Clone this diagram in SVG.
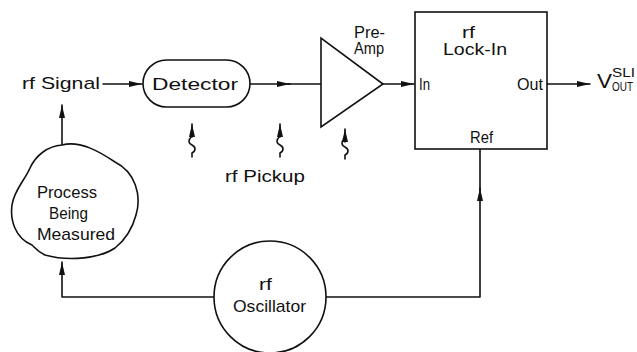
<svg xmlns="http://www.w3.org/2000/svg" width="637" height="352" viewBox="0 0 637 352">
<style>
.s{fill:none;stroke:#111;stroke-width:1.6;stroke-linejoin:round;stroke-linecap:round}
.n{fill:#fff;stroke:#111;stroke-width:1.6}
text{font-family:"Liberation Sans","DejaVu Sans",sans-serif;font-size:17px;fill:#111}
.m{font-size:16px}
.sm{font-size:12px}
.v{font-size:20px}
</style>
<defs>
<marker id="ah" markerUnits="userSpaceOnUse" markerWidth="14" markerHeight="8" refX="13" refY="4" orient="auto">
<path d="M0,1 L13,4 L0,7 Z" fill="#111"/>
</marker>
</defs>
<rect width="637" height="352" fill="#fff"/>
<g id="connectors">
<line class="s" x1="103" y1="84" x2="142" y2="84" marker-end="url(#ah)"/>
<line class="s" x1="250" y1="84" x2="290" y2="84" marker-end="url(#ah)"/>
<line class="s" x1="288" y1="84" x2="321" y2="84"/>
<line class="s" x1="383" y1="84" x2="414" y2="84" marker-end="url(#ah)"/>
<line class="s" x1="547" y1="84" x2="590" y2="84" marker-end="url(#ah)"/>
<line class="s" x1="62" y1="145" x2="62" y2="105" marker-end="url(#ah)"/>
<path class="s" d="M214,297 L62,297 L62,262" marker-end="url(#ah)"/>
<path class="s" d="M326,297 L480,297 L480,188" marker-end="url(#ah)"/>
<line class="s" x1="480" y1="190" x2="480" y2="149"/>
<g id="pickups">
<line class="s" x1="192" y1="137" x2="192" y2="124" marker-end="url(#ah)"/>
<path class="s" d="M192,136 C188,140 188,143 192,145 C196,147 196,151 192,153 L192,157"/>
<line class="s" x1="280" y1="137" x2="280" y2="124" marker-end="url(#ah)"/>
<path class="s" d="M280,136 C276,140 276,143 280,145 C284,147 284,151 280,153 L280,157"/>
<line class="s" x1="345" y1="142" x2="345" y2="129" marker-end="url(#ah)"/>
<path class="s" d="M345,138 C341,142 341,145 345,147 C349,149 349,153 345,155 L345,159"/>
</g>
</g>
<g id="rfsignal"><text x="22" y="89" textLength="78" lengthAdjust="spacingAndGlyphs">rf Signal</text></g>
<g id="detector">
<rect class="n" x="143" y="60" width="107" height="47" rx="23.5"/>
<text x="152" y="90" textLength="86" lengthAdjust="spacingAndGlyphs">Detector</text>
</g>
<g id="rfpickup"><text x="225" y="182" textLength="80" lengthAdjust="spacingAndGlyphs">rf Pickup</text></g>
<g id="preamp">
<polygon class="n" points="321,38 321,127 383,84"/>
<text class="m" x="354" y="38" textLength="31" lengthAdjust="spacingAndGlyphs">Pre-</text>
<text class="m" x="354" y="54" textLength="30" lengthAdjust="spacingAndGlyphs">Amp</text>
</g>
<g id="lockin">
<rect class="n" x="415" y="12" width="132" height="137"/>
<text class="m" x="462" y="38" textLength="13" lengthAdjust="spacingAndGlyphs">rf</text>
<text class="m" x="443" y="55" textLength="64" lengthAdjust="spacingAndGlyphs">Lock-In</text>
<text x="419" y="90" textLength="11" lengthAdjust="spacingAndGlyphs">In</text>
<text x="517" y="90" textLength="26" lengthAdjust="spacingAndGlyphs">Out</text>
<text x="470" y="143" textLength="23" lengthAdjust="spacingAndGlyphs">Ref</text>
</g>
<g id="vout">
<text class="v" x="597" y="88" textLength="15" lengthAdjust="spacingAndGlyphs">V</text>
<text class="sm" x="612" y="77" textLength="23" lengthAdjust="spacingAndGlyphs">SLI</text>
<text class="sm" x="612" y="91" textLength="21" lengthAdjust="spacingAndGlyphs">OUT</text>
</g>
<g id="process">
<path class="n" d="M62,145 C80,140 100,152 115,162 C135,172 142,195 136,215 C132,230 125,240 115,248 C100,258 70,262 45,255 C38,252 35,248 32,245 C15,238 10,220 12,205 C14,190 25,180 30,168 C36,155 48,146 62,145 Z"/>
<text x="37" y="198" textLength="60" lengthAdjust="spacingAndGlyphs">Process</text>
<text x="49" y="219" textLength="39" lengthAdjust="spacingAndGlyphs">Being</text>
<text x="37" y="240" textLength="78" lengthAdjust="spacingAndGlyphs">Measured</text>
</g>
<g id="oscillator">
<circle class="n" cx="270" cy="297" r="56"/>
<text x="259" y="290" textLength="13" lengthAdjust="spacingAndGlyphs">rf</text>
<text x="233" y="312" textLength="73" lengthAdjust="spacingAndGlyphs">Oscillator</text>
</g>
</svg>
